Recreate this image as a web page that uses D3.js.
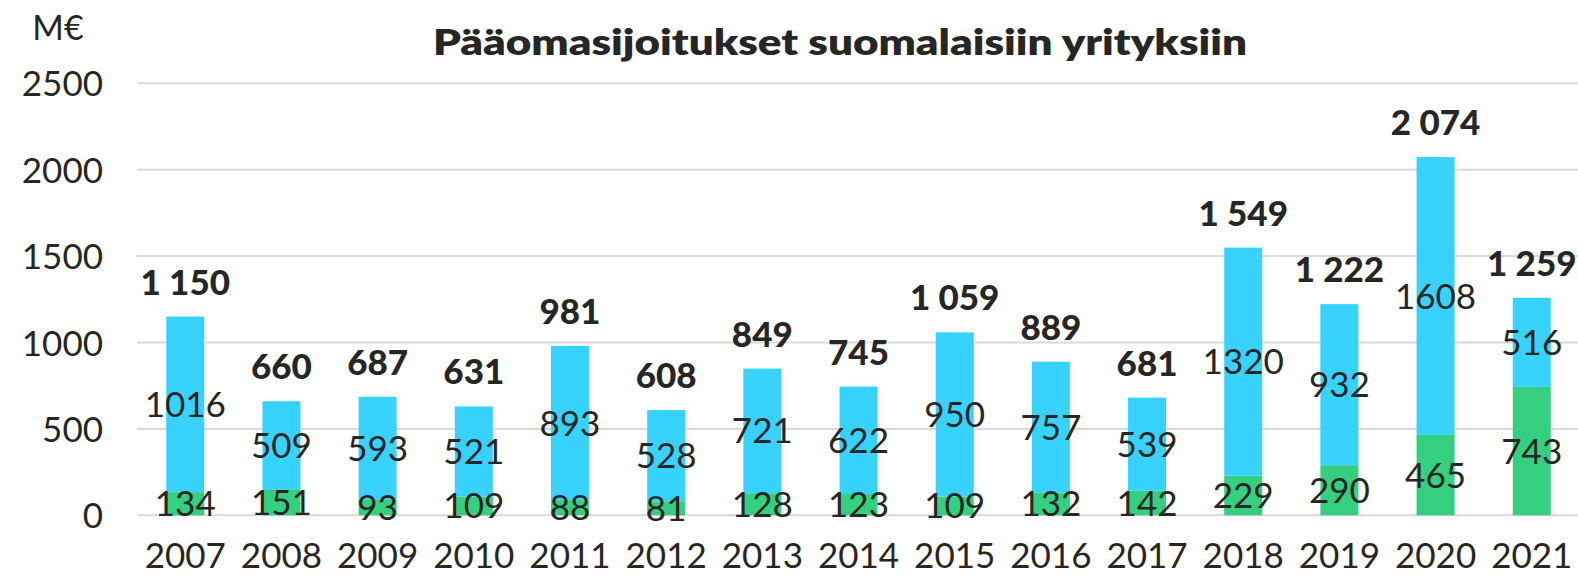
<!DOCTYPE html>
<html><head><meta charset="utf-8">
<script src="https://cdn.jsdelivr.net/npm/d3@7"></script>
<style>body{margin:0;background:#fff}svg{display:block}text{font-family:Lato,"Open Sans",sans-serif;fill:#262626}</style>
</head><body><svg id="c" width="1578" height="576"></svg>
<script>
const years = ["2007","2008","2009","2010","2011","2012","2013","2014","2015","2016","2017","2018","2019","2020","2021"];
const greenValues = [134,151,93,109,88,81,128,123,109,132,142,229,290,465,743];
const blueValues = [1016,509,593,521,893,528,721,622,950,757,539,1320,932,1608,516];
const totals = [1150,660,687,631,981,608,849,745,1059,889,681,1549,1222,2074,1259];
const yTicks = [0,500,1000,1500,2000,2500];

const svg = d3.select("#c");
const x = d3.scaleBand().domain(years).range([137.4,1579.6]).paddingInner(0.605).paddingOuter(0.3);
const y = d3.scaleLinear().domain([0,2500]).range([515.3,83.3]);

// grid
svg.append("g").selectAll("line").data(yTicks).join("line")
  .attr("x1",137).attr("x2",1578).attr("y1",d=>y(d)).attr("y2",d=>y(d))
  .attr("stroke","#d9d9d9").attr("stroke-width",2);

// y labels
const yAxis = d3.axisLeft(y).tickValues(yTicks).tickSize(0).tickPadding(0).tickFormat(d=>String(d));
const ga = svg.append("g").attr("transform","translate(103,0)").call(yAxis);
ga.select(".domain").remove();
ga.selectAll("text").attr("font-size",35).attr("fill","#262626").attr("font-family","Lato").attr("dy","0.36em");

svg.append("text").attr("x",58).attr("y",40).attr("text-anchor","middle").attr("font-size",34).text("M€");

svg.append("text").attr("x",840).attr("y",55).attr("text-anchor","middle")
  .attr("font-family","'Open Sans',Lato,sans-serif").attr("font-size",36).attr("font-weight",800)
  .attr("textLength",814).attr("lengthAdjust","spacingAndGlyphs")
  .text("Pääomasijoitukset suomalaisiin yrityksiin");

const bw = x.bandwidth();
const xc = d => x(d) + bw/2;
const data = years.map((yr,i)=>({yr,g:greenValues[i],b:blueValues[i],t:totals[i]}));

// bars
svg.append("g").selectAll("rect").data(data).join("rect")
  .attr("x",d=>x(d.yr)).attr("width",bw).attr("y",d=>y(d.g)).attr("height",d=>y(0)-y(d.g)).attr("fill","#35D07F");
svg.append("g").selectAll("rect").data(data).join("rect")
  .attr("x",d=>x(d.yr)).attr("width",bw).attr("y",d=>y(d.g+d.b)).attr("height",d=>y(d.g)-y(d.g+d.b)).attr("fill","#38D2FF");

// segment labels
const fmtT = v => { const s=String(v); return s.length>3 ? s.slice(0,s.length-3)+" "+s.slice(-3) : s; };
svg.append("g").selectAll("text").data(data).join("text")
  .attr("x",d=>xc(d.yr)).attr("y",d=>y(d.g/2)).attr("dy","0.36em").attr("text-anchor","middle").attr("font-size",35).text(d=>d.g);
svg.append("g").selectAll("text").data(data).join("text")
  .attr("x",d=>xc(d.yr)).attr("y",d=>y(d.g+d.b/2)).attr("dy","0.36em").attr("text-anchor","middle").attr("font-size",35).text(d=>d.b);
svg.append("g").selectAll("text").data(data).join("text")
  .attr("x",d=>xc(d.yr)).attr("y",d=>y(d.g+d.b)-22).attr("text-anchor","middle").attr("font-size",35).attr("font-weight",900).text(d=>fmtT(d.t));

// x labels
const xAxis = d3.axisBottom(x).tickSize(0).tickPadding(0);
const gx = svg.append("g").attr("transform","translate(0,568)").call(xAxis);
gx.select(".domain").remove();
gx.selectAll("text").attr("font-size",35).attr("fill","#262626").attr("font-family","Lato").attr("dy","0");
</script></body></html>
